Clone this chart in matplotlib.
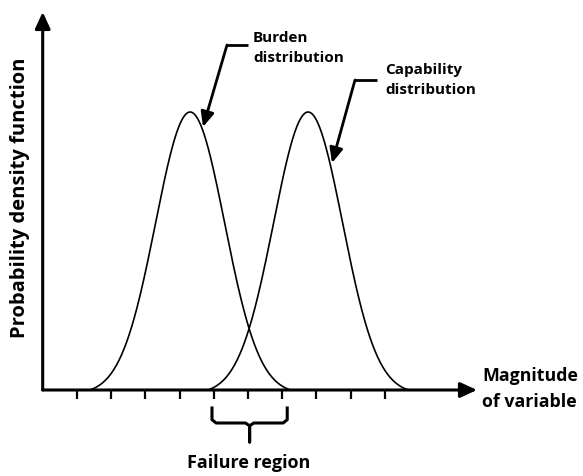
import numpy as np
import matplotlib.pyplot as plt

plt.rcParams.update({
    'font.family': ['Open Sans', 'DejaVu Sans'],
    'font.weight': 'bold',
})

# distributions, in tick units along the axis, peak height = 1
dist_names = ['Burden distribution', 'Capability distribution']
dist_means = [4.31, 7.76]
dist_sigma = [1.01, 1.01]
dist_halfspan = 2.93          # curves end where they meet the axis
tick_positions = [1, 2, 3, 4, 5, 6, 7, 8, 9, 10]
failure_region = [4.95, 7.15]   # bracket under the overlap


def px(x, y):
    # picture pixels -> data units (origin at axis corner, 34.2 px per tick, 278 px per peak)
    return (x - 42.7) / 34.2, (390 - y) / 278


fig = plt.figure(figsize=(5.83, 4.76), dpi=100)
ax = fig.add_axes([0, 0, 1, 1])
x0, y1 = px(0, 0)
x1, y0 = px(583, 476)
ax.set_xlim(x0, x1)
ax.set_ylim(y0, y1)
ax.axis('off')

# bell curves
for mu, sd in zip(dist_means, dist_sigma):
    u = np.linspace(mu - dist_halfspan, mu + dist_halfspan, 400)
    g = np.exp(-(u - mu) ** 2 / (2 * sd ** 2))
    g0 = np.exp(-dist_halfspan ** 2 / (2 * sd ** 2))
    ax.plot(u, (g - g0) / (1 - g0), color='black', lw=1.2)

# axes with arrow heads
ax_style = dict(arrowstyle='-|>,head_length=0.5,head_width=0.23', lw=2.2,
                color='black', shrinkA=0, shrinkB=0, mutation_scale=20)
ax.annotate('', xy=px(42.7, 12), xytext=(0, 0), arrowprops=ax_style)
ax.annotate('', xy=px(477, 390), xytext=(0, 0), arrowprops=ax_style)

# ticks below the axis
tick_len = 9 / 278
ax.vlines(tick_positions, -tick_len, 0, color='black', lw=1.6)

# labels with leader arrows
lead_style = dict(arrowstyle='-|>,head_length=0.45,head_width=0.2', lw=2.0,
                  color='black', shrinkA=0, shrinkB=0, mutation_scale=20)
leaders = [((227, 45), (248, 45), (203, 127), (253, 48)),
           ((355, 80), (377, 80), (332, 163), (385, 80))]
for name, (corner, end, tip, txt) in zip(dist_names, leaders):
    cx, cy = px(*corner)
    ex, ey = px(*end)
    ax.plot([cx, ex], [cy, ey], color='black', lw=2.0, solid_capstyle='butt')
    ax.annotate('', xy=px(*tip), xytext=(cx, cy), arrowprops=lead_style)
    first, second = name.split(' ')
    ax.text(*px(*txt), first + '\n' + second, ha='left', va='center',
            fontsize=11, linespacing=1.55)

ax.text(*px(482, 389), 'Magnitude\nof variable', ha='left', va='center',
        fontsize=12.8, linespacing=1.6)
ax.text(*px(20, 198), 'Probability density function', rotation=90,
        ha='center', va='center', fontsize=14.5)

# curly bracket for the failure region
left, right = failure_region
mid = (left + right) / 2
top = px(0, 408)[1]
bot = px(0, 423)[1]
stem = px(0, 442)[1]
r = 0.12
bx = [left, left, left + r, mid - r, mid, mid, mid, mid + r, right - r, right, right]
by = [top, bot + 0.012, bot, bot, bot - 0.01, stem, bot - 0.01, bot, bot, bot + 0.012, top]
ax.plot(bx, by, color='black', lw=2.2, solid_joinstyle='round')
ax.text(*px(249, 463), 'Failure region', ha='center', va='center', fontsize=13)

fig.savefig('out.png', dpi=100)
